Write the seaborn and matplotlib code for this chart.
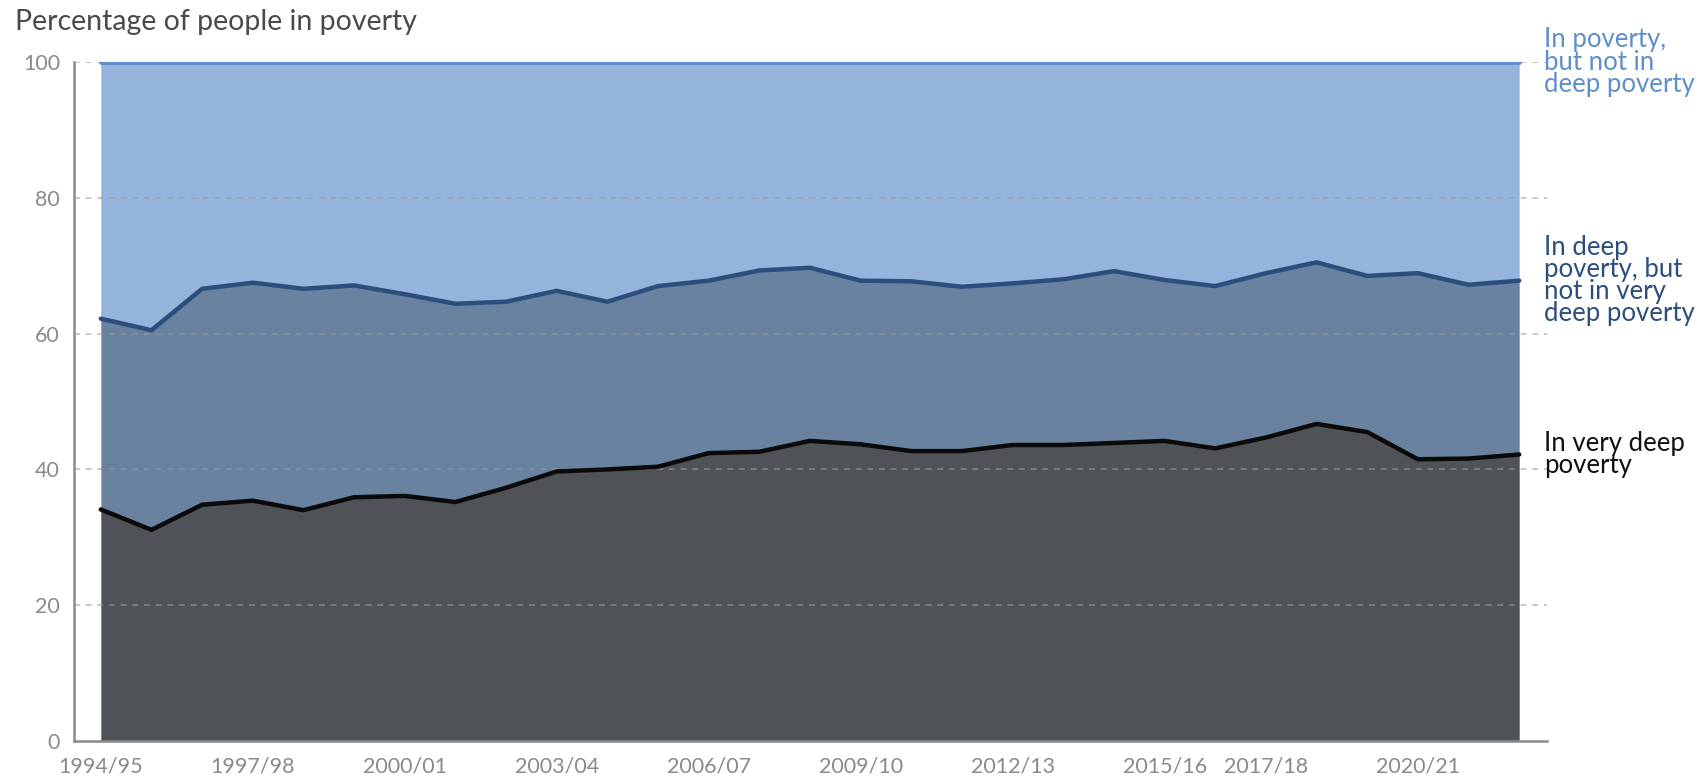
import numpy as np
import pandas as pd
import matplotlib
matplotlib.use("Agg")
import matplotlib.pyplot as plt
import matplotlib.transforms as mtransforms
import seaborn as sns

# Data (percentage of people in poverty)
years = ["1994/95", "1995/96", "1996/97", "1997/98", "1998/99", "1999/00", "2000/01",
         "2001/02", "2002/03", "2003/04", "2004/05", "2005/06", "2006/07", "2007/08",
         "2008/09", "2009/10", "2010/11", "2011/12", "2012/13", "2013/14", "2014/15",
         "2015/16", "2016/17", "2017/18", "2018/19", "2019/20", "2020/21", "2021/22",
         "2022/23"]
very_deep = [34.1, 31.1, 34.8, 35.4, 34.0, 35.9, 36.1, 35.2, 37.3, 39.7, 40.0, 40.4,
             42.4, 42.6, 44.2, 43.7, 42.7, 42.7, 43.6, 43.6, 43.9, 44.2, 43.1, 44.7,
             46.7, 45.5, 41.5, 41.6, 42.2]
deep = [62.2, 60.5, 66.6, 67.5, 66.6, 67.1, 65.8, 64.4, 64.7, 66.3, 64.7, 67.0, 67.8,
        69.3, 69.7, 67.8, 67.7, 66.9, 67.4, 68.0, 69.2, 67.9, 67.0, 68.9, 70.5, 68.5,
        68.9, 67.2, 67.8]
all_poverty = [100.0] * len(years)
labelled_years = ["1994/95", "1997/98", "2000/01", "2003/04", "2006/07", "2009/10",
                  "2012/13", "2015/16", "2017/18", "2020/21"]

series_labels = ["In poverty,\nbut not in\ndeep poverty",
                 "In deep\npoverty, but\nnot in very\ndeep poverty",
                 "In very deep\npoverty"]

df = pd.DataFrame({"pos": np.arange(len(years)), "year": years,
                   "very_deep": very_deep, "deep": deep, "all": all_poverty})

sns.set_theme(style="white")
plt.rcParams["font.family"] = ["Lato", "DejaVu Sans"]

light_fill = "#94b4db"
mid_fill = "#69829f"
dark_fill = "#4f5357"
light_line = "#5f8fcb"
mid_line = "#2b4e7c"
dark_line = "#0a0a0a"
grey = "#8a8a8a"

fig = plt.figure(figsize=(17.04, 7.82), dpi=100)
ax = fig.add_axes([0.0434, 0.0524, 0.8645, 0.8683])

ax.fill_between(df["pos"], df["deep"], df["all"], color=light_fill, lw=0, zorder=1)
ax.fill_between(df["pos"], df["very_deep"], df["deep"], color=mid_fill, lw=0, zorder=1)
ax.fill_between(df["pos"], 0, df["very_deep"], color=dark_fill, lw=0, zorder=1)

# dashed gridlines sit over the areas
for g in [20, 40, 60, 80, 100]:
    ax.axhline(g, color="#9a9a9a", lw=1.4, ls=(0, (3, 3)), alpha=0.55, zorder=2)

sns.lineplot(data=df, x="pos", y="all", color=light_line, lw=3.6, ax=ax, zorder=3)
sns.lineplot(data=df, x="pos", y="deep", color=mid_line, lw=3.2, ax=ax, zorder=3)
sns.lineplot(data=df, x="pos", y="very_deep", color=dark_line, lw=3.2, ax=ax, zorder=3)

ax.set_xlim(-0.53, len(years) - 1 + 0.55)
ax.set_ylim(0, 100)
ax.set_xlabel("")
ax.set_ylabel("")

ax.set_xticks(df["pos"])
ax.set_xticklabels([y if y in labelled_years else "" for y in years])
ax.set_yticks([0, 20, 40, 60, 80, 100])
ax.tick_params(axis="both", colors=grey, labelcolor=grey, labelsize=15.5,
               length=8, width=1.6, direction="out", pad=3)
ax.tick_params(axis="y", pad=2)

for side in ["top", "right"]:
    ax.spines[side].set_visible(False)
for side in ["left", "bottom"]:
    ax.spines[side].set_color(grey)
    ax.spines[side].set_linewidth(1.8)

fig.text(0.009, 0.972, "Percentage of people in poverty", fontsize=20.5,
         color="#4a4a4a", ha="left", va="center")

trans = mtransforms.blended_transform_factory(ax.transAxes, ax.transData)
label_y = [all_poverty[-1], deep[-1], very_deep[-1]]
label_colors = [light_line, mid_line, "#111111"]
for txt, yv, col in zip(series_labels, label_y, label_colors):
    ax.text(0.998, yv, txt, transform=trans, ha="left", va="center",
            fontsize=18.5, color=col, linespacing=0.86, clip_on=False)

fig.savefig("out.png", dpi=100)
